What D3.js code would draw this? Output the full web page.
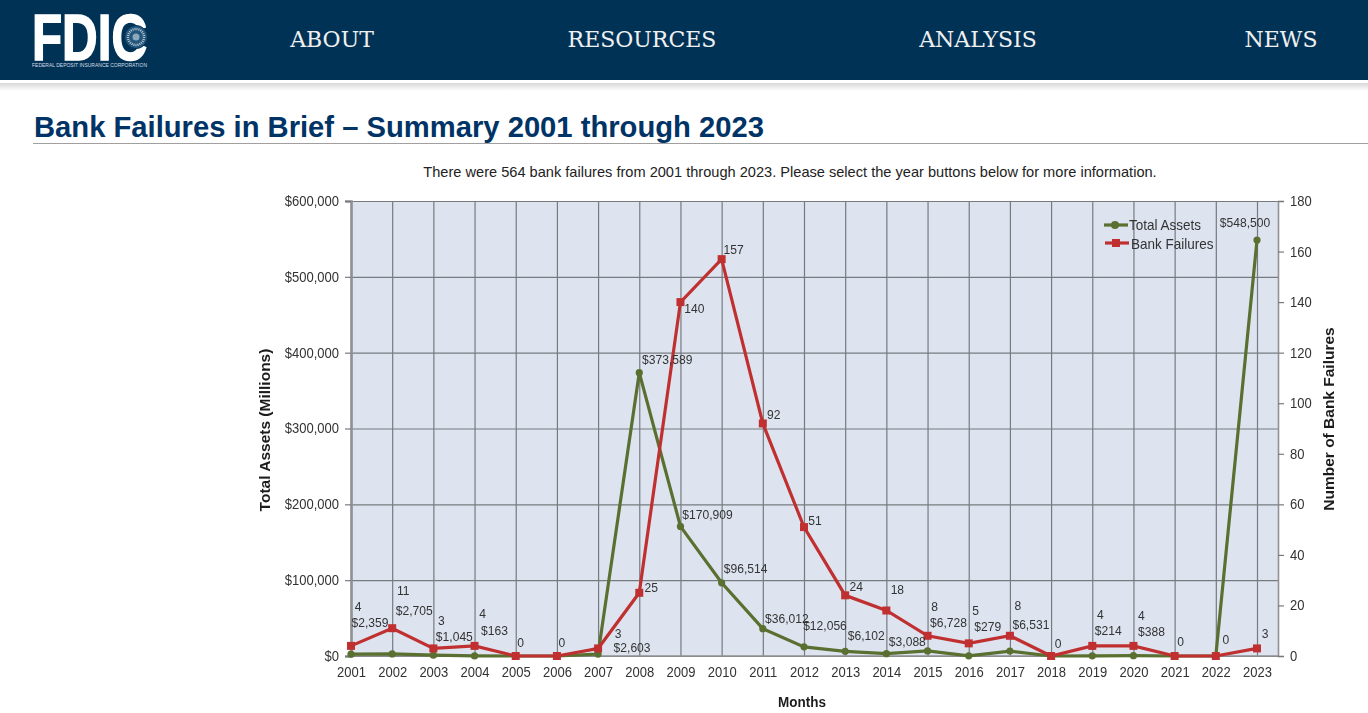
<!DOCTYPE html>
<html>
<head>
<meta charset="utf-8">
<title>Bank Failures in Brief</title>
<script src="https://cdn.jsdelivr.net/npm/d3@7"></script>
<style>
  html, body { margin: 0; padding: 0; background: #fff; overflow: hidden; }
  svg { display: block; font-family: "Liberation Sans", Arial, sans-serif; }
  #plotArea { filter: blur(0.3px); }
</style>
</head>
<body>
<div id="chart"></div>
<script>
const years = ["2001","2002","2003","2004","2005","2006","2007","2008","2009","2010","2011","2012","2013","2014","2015","2016","2017","2018","2019","2020","2021","2022","2023"];
const totalAssets = [2359,2705,1045,163,0,0,2603,373589,170909,96514,36012,12056,6102,3088,6728,279,6531,0,214,388,0,0,548500];
const bankFailures = [4,11,3,4,0,0,3,25,140,157,92,51,24,18,8,5,8,0,4,4,0,0,3];
const navItems = ["ABOUT","RESOURCES","ANALYSIS","NEWS"];
const navX = [332,642,978,1281];

// hand placed label offsets, the original chart moves them around by hand too
const failureOffsets = [[7,-39],[11,-38],[8,-28],[8,-32],[5,-14],[5,-14],[20,-15],[12,-5],[14,6],[12,-10],[11,-9],[11,-7],[11,-9],[11,-21],[7,-29],[7,-33],[8,-30],[7,-13],[8,-31],[8,-30],[6,-15],[10,-17],[8,-15]];
const assetOffsets = [[19,-32],[22,-43],[21,-19],[20,-25],[0,0],[0,0],[34,-7],[28,-13],[27,-12],[24,-14],[24,-10],[21,-21],[21,-16],[21,-12],[21,-28],[19,-29],[21,-27],[0,0],[16,-25],[18,-24],[0,0],[0,0],[-12,-18]];

const width = 1368, height = 713;
const plot = { left: 351, right: 1278, top: 201, bottom: 656, lastYear: 1257 };
const navy = "#003256", green = "#5a7030", red = "#c03030", gridColor = "#777b80", textColor = "#333";

const svg = d3.select("#chart").append("svg")
    .attr("width", width)
    .attr("height", height);

// the chart's text is tall and narrow, so squeeze it a little
const squeeze = (sel, factor) => sel.each(function() {
    const len = this.getComputedTextLength();
    if (len > 0) d3.select(this).attr("textLength", len * factor).attr("lengthAdjust", "spacingAndGlyphs");
});

// header
const defs = svg.append("defs");
const shadow = defs.append("linearGradient").attr("id", "headShadow").attr("x2", 0).attr("y2", 1);
shadow.append("stop").attr("offset", 0).attr("stop-color", "#d8d8d8");
shadow.append("stop").attr("offset", 1).attr("stop-color", "#fff");

svg.append("rect").attr("width", width).attr("height", 80).attr("fill", navy);
svg.append("rect").attr("y", 83).attr("width", width).attr("height", 8).attr("fill", "url(#headShadow)");

svg.append("text").attr("x", 32).attr("y", 60)
    .attr("textLength", 115).attr("lengthAdjust", "spacingAndGlyphs")
    .attr("font-size", 64).attr("font-weight", "bold").attr("fill", "#fff")
    .attr("stroke", "#fff").attr("stroke-width", 1.6)
    .text("FDIC");
svg.append("circle").attr("cx", 136).attr("cy", 37).attr("r", 11.5)
    .attr("fill", "#24557a").attr("stroke", navy).attr("stroke-width", 1);
svg.append("circle").attr("cx", 136).attr("cy", 37).attr("r", 8)
    .attr("fill", "none").attr("stroke", "#b9ccd9").attr("stroke-width", 2.4).attr("stroke-dasharray", "1 1");
svg.append("circle").attr("cx", 136).attr("cy", 37).attr("r", 3.5)
    .attr("fill", "#b9ccd9").attr("opacity", 0.7);
svg.append("text").attr("x", 32).attr("y", 66.5)
    .attr("textLength", 115).attr("lengthAdjust", "spacingAndGlyphs")
    .attr("font-size", 5.5).attr("fill", "#d5dde5")
    .text("FEDERAL DEPOSIT INSURANCE CORPORATION");

svg.selectAll(".nav").data(navItems).join("text")
    .attr("class", "nav")
    .attr("x", (_, i) => navX[i]).attr("y", 47)
    .attr("text-anchor", "middle")
    .attr("font-family", "'DejaVu Serif', serif")
    .attr("font-size", 22)
    .attr("fill", "#f0f0f0")
    .text(d => d);

svg.append("text").attr("x", 34).attr("y", 137)
    .attr("font-size", 29.2).attr("font-weight", "bold").attr("fill", "#003366")
    .text("Bank Failures in Brief – Summary 2001 through 2023");
svg.append("line").attr("x1", 33).attr("x2", width).attr("y1", 143.5).attr("y2", 143.5)
    .attr("stroke", "#a0a0a0");
svg.append("text").attr("x", 790).attr("y", 177)
    .attr("text-anchor", "middle").attr("font-size", 14.6).attr("fill", "#222")
    .text("There were 564 bank failures from 2001 through 2023. Please select the year buttons below for more information.");

// scales
const x = d3.scalePoint().domain(years).range([plot.left, plot.lastYear]);
const yAssets = d3.scaleLinear().domain([0, 600000]).range([plot.bottom, plot.top]);
const yFailures = d3.scaleLinear().domain([0, 180]).range([plot.bottom, plot.top]);

const chart = svg.append("g").attr("id", "plotArea");

chart.append("rect")
    .attr("x", plot.left).attr("y", plot.top)
    .attr("width", plot.right - plot.left).attr("height", plot.bottom - plot.top)
    .attr("fill", "#dde4ef");

const styleAxis = g => {
    g.selectAll("text").attr("font-family", "'Liberation Sans', Arial, sans-serif").attr("font-size", 14).attr("fill", textColor).call(squeeze, 0.93);
    g.selectAll("line").attr("stroke", gridColor).attr("stroke-width", 1.2);
    g.selectAll(".domain").attr("stroke", "#8f9194").attr("stroke-width", 1.6);
};

// grid lines
chart.append("g")
    .attr("transform", `translate(${plot.left},0)`)
    .call(d3.axisLeft(yAssets).ticks(6).tickSize(-(plot.right - plot.left)).tickFormat(""))
    .call(styleAxis)
    .call(g => g.select(".domain").remove());
chart.append("g")
    .attr("transform", `translate(0,${plot.top})`)
    .call(d3.axisBottom(x).tickSize(plot.bottom - plot.top).tickFormat(""))
    .call(styleAxis)
    .call(g => g.select(".domain").remove());

// axes
chart.append("g")
    .attr("transform", `translate(${plot.left},0)`)
    .call(d3.axisLeft(yAssets).ticks(6).tickSize(6).tickPadding(6).tickFormat(d3.format("$,")))
    .call(styleAxis)
    .call(g => g.select(".domain").attr("stroke-width", 2.6));
chart.append("g")
    .attr("transform", `translate(${plot.right},0)`)
    .call(d3.axisRight(yFailures).ticks(9).tickSize(6).tickPadding(6))
    .call(styleAxis);
chart.append("g")
    .attr("transform", `translate(0,${plot.bottom})`)
    .call(d3.axisBottom(x).tickSize(0).tickPadding(11))
    .call(styleAxis)
    .call(g => g.select(".domain").attr("d", `M${plot.left},0H${plot.right}`));

// axis titles
chart.append("text")
    .attr("transform", "translate(270,430) rotate(-90)")
    .attr("text-anchor", "middle").attr("font-size", 15.5).attr("font-weight", "bold").attr("fill", "#1c1c1c")
    .text("Total Assets (Millions)");
chart.append("text")
    .attr("transform", "translate(1334,419) rotate(-90)")
    .attr("text-anchor", "middle").attr("font-size", 15.5).attr("font-weight", "bold").attr("fill", "#1c1c1c")
    .text("Number of Bank Failures");
chart.append("text")
    .attr("x", 802).attr("y", 707)
    .attr("text-anchor", "middle").attr("font-size", 14.5).attr("font-weight", "bold").attr("fill", "#1c1c1c")
    .text("Months")
    .call(squeeze, 0.93);

// series
const assetLine = d3.line().x((_, i) => x(years[i])).y(d => yAssets(d));
const failureLine = d3.line().x((_, i) => x(years[i])).y(d => yFailures(d));

chart.append("path").datum(totalAssets)
    .attr("fill", "none").attr("stroke", green).attr("stroke-width", 3.2)
    .attr("d", assetLine);
chart.selectAll(".asset").data(totalAssets).join("circle")
    .attr("class", "asset")
    .attr("cx", (_, i) => x(years[i])).attr("cy", d => yAssets(d))
    .attr("r", 3.6).attr("fill", green);

chart.append("path").datum(bankFailures)
    .attr("fill", "none").attr("stroke", red).attr("stroke-width", 3.2)
    .attr("d", failureLine);
chart.selectAll(".failure").data(bankFailures).join("rect")
    .attr("class", "failure")
    .attr("x", (_, i) => x(years[i]) - 4).attr("y", d => yFailures(d) - 4)
    .attr("width", 8).attr("height", 8).attr("fill", red);

// value labels, zero assets get none
const dollars = d3.format("$,");
chart.selectAll(".assetLabel").data(totalAssets).join("text")
    .attr("class", "assetLabel")
    .attr("x", (_, i) => x(years[i]) + assetOffsets[i][0])
    .attr("y", (d, i) => yAssets(d) + assetOffsets[i][1])
    .attr("dy", "0.35em").attr("text-anchor", "middle")
    .attr("font-size", 13).attr("fill", textColor)
    .text(d => d > 0 ? dollars(d) : "")
    .call(squeeze, 0.93);
chart.selectAll(".failureLabel").data(bankFailures).join("text")
    .attr("class", "failureLabel")
    .attr("x", (_, i) => x(years[i]) + failureOffsets[i][0])
    .attr("y", (d, i) => yFailures(d) + failureOffsets[i][1])
    .attr("dy", "0.35em").attr("text-anchor", "middle")
    .attr("font-size", 13).attr("fill", textColor)
    .text(d => d)
    .call(squeeze, 0.93);

// legend
const legend = chart.append("g");
legend.append("line").attr("x1", 1104).attr("x2", 1128).attr("y1", 225).attr("y2", 225)
    .attr("stroke", green).attr("stroke-width", 3.2);
legend.append("circle").attr("cx", 1115).attr("cy", 225).attr("r", 4).attr("fill", green);
legend.append("text").attr("x", 1129).attr("y", 229.5).attr("font-size", 14.5).attr("fill", textColor).text("Total Assets").call(squeeze, 0.93);
legend.append("line").attr("x1", 1105).attr("x2", 1129).attr("y1", 243).attr("y2", 243)
    .attr("stroke", red).attr("stroke-width", 3.2);
legend.append("rect").attr("x", 1112).attr("y", 239).attr("width", 8).attr("height", 8).attr("fill", red);
legend.append("text").attr("x", 1131).attr("y", 248.5).attr("font-size", 14.5).attr("fill", textColor).text("Bank Failures").call(squeeze, 0.93);
</script>
</body>
</html>
